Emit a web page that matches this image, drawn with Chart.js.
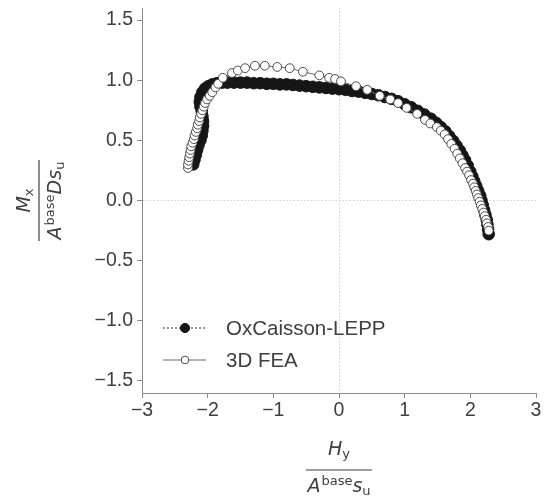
<!DOCTYPE html>
<html>
<head>
<meta charset="utf-8">
<script src="https://cdn.jsdelivr.net/npm/chart.js@4.4.1/dist/chart.umd.min.js"></script>
<style>
  html, body { margin: 0; padding: 0; background: #fff; }
  #wrap { width: 549px; height: 498px; }
</style>
</head>
<body>
<div id="wrap"><canvas id="myChart" width="549" height="498"></canvas></div>
<script>
// tick values on both axes
const xTicks = [-3, -2, -1, 0, 1, 2, 3];
const yTicks = [-1.5, -1.0, -0.5, 0.0, 0.5, 1.0, 1.5];

// OxCaisson-LEPP (filled dots), H / (A s_u)
const leppH = [-2.22, -2.20, -2.18, -2.16, -2.14, -2.11, -2.09, -2.08, -2.07, -2.07,
  -2.08, -2.09, -2.11, -2.12, -2.11, -2.08, -2.04, -1.99, -1.93, -1.86,
  -1.78, -1.70, -1.60, -1.50, -1.40, -1.30, -1.20, -1.10, -1.00, -0.90,
  -0.80, -0.70, -0.60, -0.50, -0.40, -0.30, -0.20, -0.10, 0.00, 0.10,
  0.20, 0.30, 0.40, 0.50, 0.60, 0.70, 0.80, 0.90, 1.00, 1.10,
  1.20, 1.30, 1.40, 1.48, 1.55, 1.62, 1.68, 1.74, 1.79, 1.84,
  1.88, 1.92, 1.96, 2.00, 2.03, 2.06, 2.09, 2.12, 2.15, 2.17,
  2.19, 2.21, 2.23, 2.25, 2.26, 2.27, 2.28];
// OxCaisson-LEPP, M / (A D s_u)
const leppM = [0.30, 0.34, 0.38, 0.42, 0.46, 0.50, 0.54, 0.58, 0.62, 0.66,
  0.70, 0.74, 0.78, 0.82, 0.86, 0.90, 0.93, 0.95, 0.965, 0.975,
  0.98, 0.98, 0.98, 0.98, 0.98, 0.975, 0.975, 0.97, 0.97, 0.965,
  0.965, 0.96, 0.955, 0.95, 0.945, 0.94, 0.935, 0.93, 0.925, 0.92,
  0.91, 0.905, 0.895, 0.885, 0.875, 0.86, 0.845, 0.825, 0.80, 0.775,
  0.745, 0.715, 0.68, 0.645, 0.61, 0.575, 0.535, 0.495, 0.455, 0.415,
  0.375, 0.335, 0.29, 0.24, 0.20, 0.16, 0.12, 0.08, 0.04, 0.00,
  -0.04, -0.08, -0.12, -0.16, -0.20, -0.24, -0.28];

// 3D FEA (open circles)
const feaH = [-2.30, -2.30, -2.29, -2.28, -2.27, -2.26, -2.25, -2.23, -2.21, -2.20,
  -2.18, -2.16, -2.15, -2.13, -2.12, -2.10, -2.08, -2.06, -2.04, -2.01,
  -1.97, -1.93, -1.88, -1.84, -1.77, -1.63, -1.54, -1.43, -1.28, -1.13,
  -0.94, -0.75, -0.55, -0.30, -0.15, -0.06, 0.03, 0.26, 0.43, 0.62,
  0.78, 0.90, 1.03, 1.19, 1.31, 1.39, 1.49, 1.55, 1.61, 1.66,
  1.71, 1.76, 1.80, 1.84, 1.88, 1.92, 1.95, 1.98, 2.01, 2.04,
  2.06, 2.08, 2.10, 2.12, 2.14, 2.16, 2.18, 2.20, 2.22, 2.24,
  2.25, 2.27, 2.28];
const feaM = [0.27, 0.30, 0.33, 0.36, 0.39, 0.42, 0.45, 0.48, 0.51, 0.54,
  0.57, 0.60, 0.63, 0.66, 0.69, 0.72, 0.75, 0.78, 0.81, 0.84,
  0.87, 0.90, 0.94, 0.97, 1.02, 1.06, 1.08, 1.10, 1.12, 1.12,
  1.11, 1.10, 1.07, 1.04, 1.02, 1.01, 0.99, 0.95, 0.92, 0.87,
  0.84, 0.81, 0.77, 0.72, 0.67, 0.64, 0.61, 0.58, 0.55, 0.51,
  0.47, 0.43, 0.39, 0.35, 0.31, 0.27, 0.24, 0.21, 0.17, 0.14,
  0.11, 0.08, 0.05, 0.02, -0.01, -0.04, -0.07, -0.10, -0.13, -0.16,
  -0.19, -0.22, -0.25];

const seriesNames = ["OxCaisson-LEPP", "3D FEA"];

const textColor = "#404040";
const spineColor = "#8c8c8c";
const tickFont = "'Liberation Sans', Arial, sans-serif";
const mathFont = "'DejaVu Sans', sans-serif";

// unicode minus like matplotlib
const fmt = (v, dec) => (v < 0 ? "\u2212" : "") + Math.abs(v).toFixed(dec);

const toPoints = (xs, ys) => xs.map((x, i) => ({ x: x, y: ys[i] }));

//# mathtext-like helper: runs of text with italic / sub / sup
const runFont = (r, size) =>
  (r.it ? "italic " : "") + (r.sub || r.sup ? Math.round(size * 0.68) : size) + "px " + mathFont;

function mathWidth(ctx, runs, size) {
  let w = 0;
  runs.forEach((r) => {
    ctx.font = runFont(r, size);
    w += ctx.measureText(r.t).width + (r.gap || 0);
  });
  return w;
}

function drawMath(ctx, runs, x, baseline, size) {
  runs.forEach((r) => {
    ctx.font = runFont(r, size);
    const dy = r.sup ? -size * 0.36 : r.sub ? size * 0.16 : 0;
    ctx.fillText(r.t, x, baseline + dy);
    x += ctx.measureText(r.t).width + (r.gap || 0);
  });
}

function drawFraction(ctx, num, den, cx, barY, numOff, denOff, size) {
  const wn = mathWidth(ctx, num, size);
  const wd = mathWidth(ctx, den, size);
  const wb = Math.max(wn, wd) + 3;
  ctx.textAlign = "left";
  ctx.textBaseline = "alphabetic";
  drawMath(ctx, num, cx - wn / 2, barY + numOff, size);
  drawMath(ctx, den, cx - wd / 2, barY + denOff, size);
  ctx.beginPath();
  ctx.lineWidth = 1.2;
  ctx.strokeStyle = textColor;
  ctx.moveTo(cx - wb / 2, barY);
  ctx.lineTo(cx + wb / 2, barY);
  ctx.stroke();
}

//* legend and axis titles drawn on top
const extrasPlugin = {
  id: "extras",
  afterDraw(chart) {
    const ctx = chart.ctx;
    const area = chart.chartArea;

    // legend
    const rows = [328, 360];
    chart.data.datasets.forEach((ds, i) => {
      const y = rows[i];
      ctx.save();
      ctx.beginPath();
      ctx.lineWidth = 1;
      ctx.strokeStyle = ds.borderColor;
      ctx.setLineDash(ds.borderDash || []);
      ctx.moveTo(163, y);
      ctx.lineTo(206, y);
      ctx.stroke();
      ctx.setLineDash([]);
      ctx.beginPath();
      ctx.arc(185, y, i === 0 ? 4.6 : 3.8, 0, Math.PI * 2);
      ctx.fillStyle = ds.pointBackgroundColor;
      ctx.fill();
      ctx.lineWidth = 1;
      ctx.strokeStyle = ds.pointBorderColor;
      ctx.stroke();
      ctx.fillStyle = textColor;
      ctx.font = "20.5px " + tickFont;
      ctx.textAlign = "left";
      ctx.textBaseline = "middle";
      ctx.fillText(seriesNames[i], 226, y + 1);
      ctx.restore();
    });

    // x axis title: H_y / (A^base s_u)
    ctx.save();
    ctx.fillStyle = textColor;
    drawFraction(
      ctx,
      [{ t: "H", it: true }, { t: "y", sub: true }],
      [{ t: "A", it: true, gap: 1 }, { t: "base", sup: true }, { t: "s", it: true }, { t: "u", sub: true }],
      (area.left + area.right) / 2, 470, -15, 22, 19
    );
    ctx.restore();

    // y axis title: M_x / (A^base D s_u), rotated
    ctx.save();
    ctx.fillStyle = textColor;
    ctx.translate(39, (area.top + area.bottom) / 2);
    ctx.rotate(-Math.PI / 2);
    drawFraction(
      ctx,
      [{ t: "M", it: true }, { t: "x", sub: true }],
      [{ t: "A", it: true, gap: 1 }, { t: "base", sup: true }, { t: "D", it: true }, { t: "s", it: true }, { t: "u", sub: true }],
      0, 0, -9, 22, 19
    );
    ctx.restore();
  },
};

const zeroGrid = (ctx) =>
  ctx.tick && ctx.tick.value === 0 ? "#cfcfcf" : "rgba(0,0,0,0)";

const config = {
  type: "scatter",
  data: {
    datasets: [
      {
        label: seriesNames[0],
        data: toPoints(leppH, leppM),
        showLine: true,
        borderColor: "#333333",
        borderWidth: 1,
        borderDash: [2, 2],
        pointRadius: 5.8,
        pointBackgroundColor: "#161616",
        pointBorderColor: "#161616",
        pointBorderWidth: 1,
        order: 2,
      },
      {
        label: seriesNames[1],
        data: toPoints(feaH, feaM),
        showLine: true,
        borderColor: "#6a6a6a",
        borderWidth: 1,
        pointRadius: 4.4,
        pointBackgroundColor: "#ffffff",
        pointBorderColor: "#4a4a4a",
        pointBorderWidth: 1,
        order: 1,
      },
    ],
  },
  options: {
    responsive: false,
    animation: false,
    layout: { padding: { top: 8, right: 13, left: 0, bottom: 0 } },
    plugins: {
      legend: { display: false },
      tooltip: { enabled: false },
    },
    scales: {
      x: {
        type: "linear",
        min: -3,
        max: 3,
        afterBuildTicks: (s) => { s.ticks = xTicks.map((v) => ({ value: v })); },
        afterFit: (s) => {
          s.height = 105;
          s.paddingLeft = 0;
          s.paddingRight = 0;
        },
        ticks: {
          color: textColor,
          font: { family: tickFont, size: 19.5 },
          padding: 1,
          maxRotation: 0,
          callback: (v) => fmt(v, 0),
        },
        grid: { color: zeroGrid, lineWidth: 1, tickColor: spineColor, tickLength: 5 },
        border: { color: spineColor, width: 1, dash: [1.5, 2] },
      },
      y: {
        type: "linear",
        min: -1.6,
        max: 1.6,
        afterBuildTicks: (s) => { s.ticks = yTicks.map((v) => ({ value: v })); },
        afterFit: (s) => {
          s.width = 142;
          s.paddingTop = 0;
          s.paddingBottom = 0;
        },
        ticks: {
          color: textColor,
          font: { family: tickFont, size: 19.5 },
          padding: 4,
          callback: (v) => fmt(v, 1),
        },
        grid: { color: zeroGrid, lineWidth: 1, tickColor: spineColor, tickLength: 5 },
        border: { color: spineColor, width: 1, dash: [1.5, 2] },
      },
    },
  },
  plugins: [extrasPlugin],
};

const ctx = document.getElementById("myChart").getContext("2d");
new Chart(ctx, config);
</script>
</body>
</html>
